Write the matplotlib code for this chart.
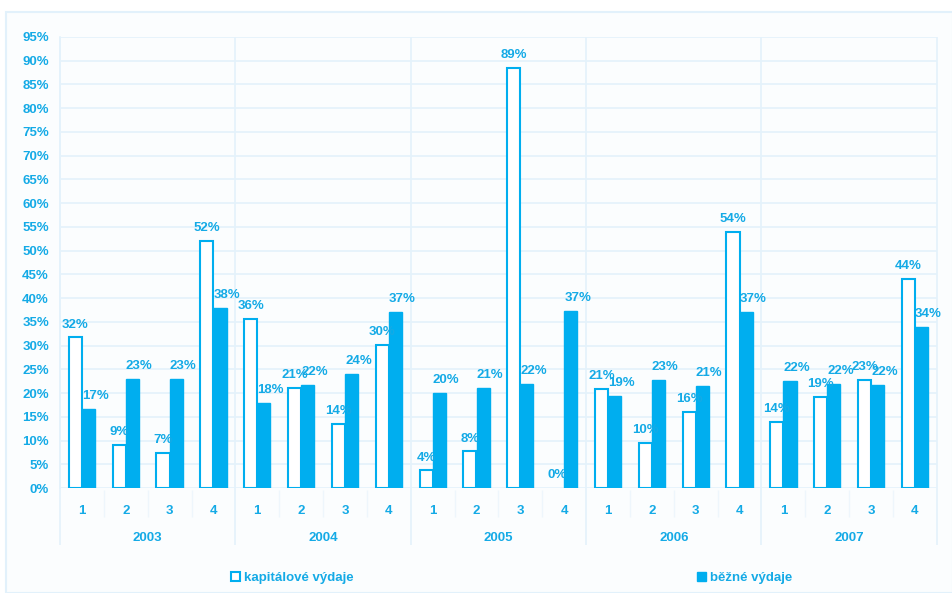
import numpy as np
import matplotlib.pyplot as plt
from matplotlib.patches import Patch, Rectangle
from matplotlib.transforms import blended_transform_factory

# data
years = ['2003', '2004', '2005', '2006', '2007']
quarters = ['1', '2', '3', '4']
kapitalove = [31.7, 9.0, 7.3, 52.0, 35.5, 21.0, 13.5, 30.2, 3.7, 7.7, 88.5, 0.0,
              20.8, 9.5, 16.0, 54.0, 14.0, 19.2, 22.8, 44.0]
bezne = [16.6, 23.0, 23.0, 38.0, 18.0, 21.6, 24.0, 37.0, 20.0, 21.1, 22.0, 37.2,
         19.3, 22.8, 21.4, 37.1, 22.5, 22.0, 21.7, 33.9]
kap_labels = ['32%', '9%', '7%', '52%', '36%', '21%', '14%', '30%', '4%', '8%', '89%', '0%',
              '21%', '10%', '16%', '54%', '14%', '19%', '23%', '44%']
bez_labels = ['17%', '23%', '23%', '38%', '18%', '22%', '24%', '37%', '20%', '21%', '22%', '37%',
              '19%', '23%', '21%', '37%', '22%', '22%', '22%', '34%']

blue = '#00aeef'
txt = '#14aae6'
grid = '#e4f2fb'

plt.rcParams['font.family'] = ['Liberation Sans', 'DejaVu Sans']
plt.rcParams['font.weight'] = 'bold'

fig = plt.figure(figsize=(9.53, 5.93), dpi=100)
fig.patches.append(Rectangle((0.006, 0.0), 0.994, 0.98, transform=fig.transFigure,
                             facecolor='#fbfdfe', edgecolor='#e2f1fb', linewidth=1.5, zorder=-10))
ax = fig.add_axes([0.063, 0.177, 0.92, 0.761])
ax.set_facecolor('#fbfdfe')

x = np.arange(len(kapitalove))
w = 0.3
b1 = ax.bar(x - w / 2, kapitalove, w, color='white', edgecolor=blue, linewidth=1.5, zorder=3)
b2 = ax.bar(x + w / 2, bezne, w, color=blue, edgecolor=blue, linewidth=1.0, zorder=3)
# a zero bar shows nothing in the original
for bar, v in zip(b1, kapitalove):
    if v == 0:
        bar.set_visible(False)

for xi, v, lab in zip(x, kapitalove, kap_labels):
    ax.annotate(lab, (xi - w / 2, v), xytext=(0, 5), textcoords='offset points',
                ha='center', va='bottom', color=txt, fontsize=9.5, fontweight='bold', zorder=4)
for xi, v, lab in zip(x, bezne, bez_labels):
    ax.annotate(lab, (xi + w / 2, v), xytext=(5, 5), textcoords='offset points',
                ha='center', va='bottom', color=txt, fontsize=9.5, fontweight='bold', zorder=4)

ax.set_xlim(-0.5, len(x) - 0.5)
ax.set_ylim(0, 95)
ax.set_yticks(np.arange(0, 96, 5))
ax.set_yticklabels([f'{t}%' for t in range(0, 96, 5)])
ax.set_xticks(x)
ax.set_xticklabels(quarters * len(years))
ax.tick_params(axis='both', length=0, colors=txt, labelsize=9.5)
ax.tick_params(axis='x', pad=12)
ax.tick_params(axis='y', pad=8)
for lab in ax.get_xticklabels() + ax.get_yticklabels():
    lab.set_fontweight('bold')

ax.yaxis.grid(True, color=grid, linewidth=1.2, zorder=0)
ax.set_axisbelow(True)
for s in ['top', 'right', 'bottom']:
    ax.spines[s].set_visible(False)
ax.spines['left'].set_color(grid)
ax.spines['left'].set_linewidth(1.2)

trans = blended_transform_factory(ax.transData, ax.transAxes)
# year separators
seps = np.arange(-0.5, len(x), 4)
ax.vlines(seps, -0.126, 1, transform=trans, color=grid, linewidth=1.2, clip_on=False, zorder=1)
# quarter separators in the tick area
qseps = [s for s in np.arange(0.5, len(x) - 1, 1) if (s + 0.5) % 4 != 0]
ax.vlines(qseps, -0.065, -0.005, transform=trans, color='#eef6fc', linewidth=1.0, clip_on=False)

for i, yr in enumerate(years):
    ax.text(i * 4 + 1.5, -0.11, yr, transform=trans, ha='center', va='center',
            color=txt, fontsize=9.5, fontweight='bold')

h1 = Patch(facecolor='white', edgecolor=blue, linewidth=1.5)
h2 = Patch(facecolor=blue, edgecolor=blue)
fig.legend([h1], ['kapitálové výdaje'], loc='center', bbox_to_anchor=(0.307, 0.025),
           frameon=False, handlelength=0.7, handleheight=0.7, handletextpad=0.3,
           labelcolor=txt, prop={'size': 9.5, 'weight': 'bold'})
fig.legend([h2], ['běžné výdaje'], loc='center', bbox_to_anchor=(0.781, 0.025),
           frameon=False, handlelength=0.7, handleheight=0.7, handletextpad=0.3,
           labelcolor=txt, prop={'size': 9.5, 'weight': 'bold'})

fig.savefig('out.png', dpi=100)
